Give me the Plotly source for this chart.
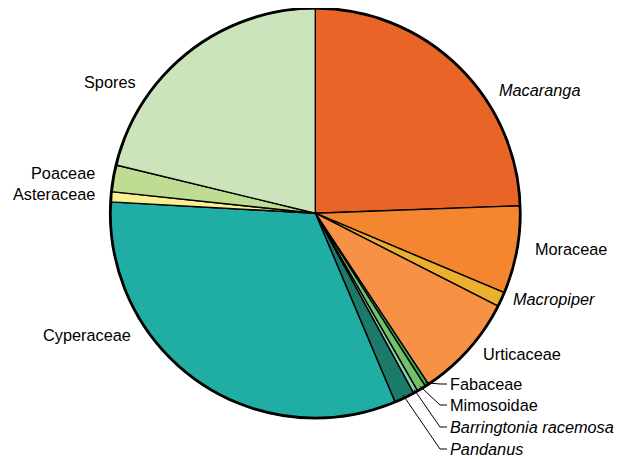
import math
import plotly.graph_objects as go

# ---- data (percent of pollen sum) ----
taxa = ["Macaranga", "Moraceae", "Macropiper", "Urticaceae", "Fabaceae",
        "Mimosoidae", "Barringtonia racemosa", "Pandanus", "Cyperaceae",
        "Asteraceae", "Poaceae", "Spores"]
values = [24.4, 6.9, 1.15, 8.2, 0.3, 0.7, 0.35, 1.6, 32.2, 0.8, 2.1, 21.2]
italic = [True, False, True, False, False, False, True, True, False, False, False, False]
colors = ["#E86427", "#F4862F", "#EBB030", "#F79145", "#38AC5C", "#72C067",
          "#88D1B2", "#1B7A69", "#20ADA4", "#F8F093", "#BEDD92", "#CCE4BB"]

# ---- layout (pixels, in window coordinates) ----
OFF = 8                      # default page margin of the written HTML
W, H = 624 - OFF, 461 - OFF  # figure size that fits the window
CX, CY, R = 315.3, 213.2, 205
# label placement: (x, y, anchor, leader)
label_pos = {
    "Macaranga": (497, 90, "left", False),
    "Moraceae": (533, 249, "left", False),
    "Macropiper": (511, 299, "left", False),
    "Urticaceae": (481, 354, "left", False),
    "Fabaceae": (448, 384, "left", True),
    "Mimosoidae": (448, 405, "left", True),
    "Barringtonia racemosa": (448, 427, "left", True),
    "Pandanus": (448, 449, "left", True),
    "Cyperaceae": (133, 335, "right", False),
    "Asteraceae": (97, 194, "right", False),
    "Poaceae": (97, 173, "right", False),
    "Spores": (138, 82, "right", False),
}

def px(x):
    return (x - OFF) / W

def py(y):
    return min(1.0, max(0.0, 1 - (y - OFF) / H))

fig = go.Figure(go.Pie(
    labels=taxa, values=values, sort=False, direction="clockwise", rotation=0,
    marker=dict(colors=colors, line=dict(color="black", width=1.4)),
    textinfo="none", hoverinfo="label+percent", showlegend=False,
    domain=dict(x=[px(CX - R), px(CX + R)], y=[py(CY + R), py(CY - R)]),
))

shapes = [dict(type="circle", xref="paper", yref="paper",
               x0=px(CX - R), x1=px(CX + R), y0=py(CY + R), y1=py(CY - R),
               line=dict(color="black", width=2.8))]
annotations = []

total = sum(values)
cum = 0.0
for name, v, it in zip(taxa, values, italic):
    mid = (cum + v / 2) / total * 2 * math.pi
    cum += v
    lx, ly, anchor, leader = label_pos[name]
    txt = f"<i>{name}</i>" if it else name
    annotations.append(dict(text=txt, x=px(lx), y=py(ly), xref="paper", yref="paper",
                            xanchor=anchor, yanchor="middle", showarrow=False,
                            font=dict(size=16.3, color="black",
                                      family="Liberation Sans, Arial, sans-serif")))
    if leader:
        sx = CX + (R - 3) * math.sin(mid)
        sy = CY - (R - 3) * math.cos(mid)
        kx = lx - 8
        shapes.append(dict(type="line", xref="paper", yref="paper",
                           x0=px(sx), y0=py(sy), x1=px(kx), y1=py(ly),
                           line=dict(color="black", width=1)))
        shapes.append(dict(type="line", xref="paper", yref="paper",
                           x0=px(kx), y0=py(ly), x1=px(lx - 1), y1=py(ly),
                           line=dict(color="black", width=1)))

fig.update_layout(width=W, height=H, margin=dict(l=0, r=0, t=0, b=0),
                  paper_bgcolor="white", plot_bgcolor="white",
                  shapes=shapes, annotations=annotations)
fig.write_html("out.html")
